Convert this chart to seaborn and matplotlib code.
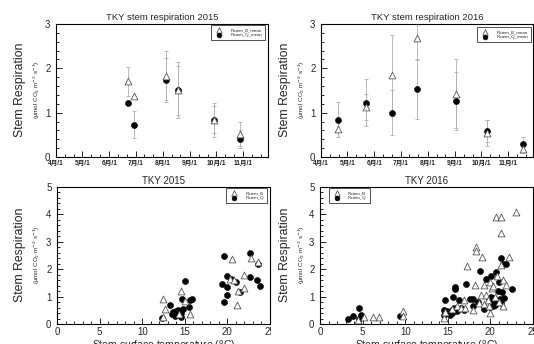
import numpy as np
import pandas as pd
import matplotlib
matplotlib.use("Agg")
import matplotlib.pyplot as plt
import matplotlib.dates as mdates
from matplotlib.ticker import MultipleLocator, FuncFormatter
from matplotlib.patches import Rectangle
import seaborn as sns

# ---- seasonal means (top panels) ----
dates_2015 = ["2015-06-22", "2015-06-29", "2015-08-05", "2015-08-18", "2015-09-28", "2015-10-28"]
rb_mean_2015 = [1.71, 1.38, 1.83, 1.52, 0.83, 0.52]
rq_mean_2015 = [1.21, 0.73, 1.74, 1.50, 0.84, 0.40]
rb_sd_2015 = [0.33, 0.0, 0.55, 0.63, 0.38, 0.28]
rq_sd_2015 = [0.0, 0.31, 0.50, 0.55, 0.30, 0.20]

dates_2016 = ["2016-04-20", "2016-05-22", "2016-06-21", "2016-07-20", "2016-09-02", "2016-10-08", "2016-11-18"]
rb_mean_2016 = [0.64, 1.13, 1.84, 2.69, 1.43, 0.54, 0.18]
rq_mean_2016 = [0.84, 1.22, 1.00, 1.53, 1.27, 0.58, 0.30]
rb_sd_2016 = [0.20, 0.30, 0.92, 0.50, 0.78, 0.30, 0.10]
rq_sd_2016 = [0.39, 0.53, 0.50, 0.68, 0.65, 0.25, 0.15]

# ---- temperature response (bottom panels) ----
tb_2015 = [12.4, 12.7, 12.4, 14.5, 15.0, 15.6, 14.3, 20.5, 22.8, 23.6,
           20.3, 20.8, 22.0, 22.0, 21.3, 21.1]
rb_2015 = [0.90, 0.56, 0.27, 1.20, 0.85, 0.36, 0.38, 2.38, 2.40, 2.27,
           1.65, 1.60, 1.78, 1.33, 1.20, 0.70]
tq_2015 = [12.3, 13.3, 13.6, 13.8, 14.0, 13.5, 14.5, 14.6, 14.7, 14.8,
           15.05, 15.5, 15.6, 15.8, 14.2, 19.4, 19.6, 19.6, 19.96, 20.0,
           20.4, 21.0, 21.5, 22.6, 22.7, 23.5, 23.6, 23.8, 20.0]
rq_2015 = [0.22, 0.70, 0.45, 0.30, 0.48, 0.35, 0.40, 0.25, 0.93, 0.55,
           1.58, 0.63, 0.86, 0.90, 0.50, 1.45, 2.50, 0.80, 1.75, 1.05,
           1.65, 1.52, 1.18, 2.60, 1.72, 1.60, 2.20, 1.40, 1.35]

tb_2016 = [4.5, 5.2, 6.2, 6.9, 9.7, 9.7, 14.6, 14.7, 16.1, 16.6,
           16.9, 17.3, 18.0, 18.2, 18.3, 18.3, 18.7, 18.9, 19.0, 19.3,
           19.3, 19.5, 19.7, 20.0, 20.0, 20.2, 20.5, 20.7, 20.8, 21.0,
           21.3, 21.3, 21.3, 21.5, 21.5, 21.8, 22.2, 23.0, 17.0, 15.5,
           19.8, 20.3]
rb_2016 = [0.14, 0.26, 0.26, 0.26, 0.47, 0.30, 0.21, 0.45, 0.64, 0.58,
           0.88, 2.12, 0.51, 1.42, 2.80, 2.68, 0.75, 1.06, 2.46, 1.42,
           0.72, 1.06, 0.88, 1.54, 0.39, 1.30, 1.00, 3.90, 1.75, 0.80,
           3.90, 3.31, 2.15, 1.60, 0.67, 1.42, 2.46, 4.10, 0.60, 0.55,
           0.65, 1.40]
tq_2016 = [3.3, 3.9, 4.6, 4.6, 4.8, 9.4, 14.5, 14.6, 14.7, 14.9,
           15.2, 15.5, 15.5, 15.6, 15.7, 15.9, 15.9, 16.1, 16.3, 16.6,
           16.9, 17.1, 17.6, 18.0, 18.0, 18.5, 18.8, 19.2, 19.5, 19.8,
           20.0, 20.1, 20.1, 20.2, 20.4, 20.5, 20.6, 20.7, 20.8, 20.9,
           21.0, 21.1, 21.2, 21.2, 21.4, 21.5, 21.6, 21.8, 22.5, 20.3,
           20.6]
rq_2016 = [0.20, 0.30, 0.57, 0.20, 0.32, 0.30, 0.50, 0.34, 0.88, 0.48,
           0.34, 0.51, 0.40, 1.00, 0.60, 1.36, 1.27, 0.48, 0.88, 0.58,
           0.52, 1.45, 0.91, 0.91, 0.66, 0.80, 1.93, 0.55, 1.65, 0.90,
           0.62, 1.76, 1.00, 0.85, 0.95, 0.70, 1.88, 0.75, 0.85, 1.20,
           1.55, 0.90, 0.75, 2.40, 1.16, 2.19, 0.95, 2.19, 1.28, 0.65,
           0.80]

sns.set_theme(style="ticks")
plt.rcParams["font.family"] = ["Liberation Sans", "Noto Sans CJK JP", "DejaVu Sans"]

W, H = 534, 344
fig = plt.figure(figsize=(W / 100, H / 100), dpi=100)


def box(l, r, t, b):
    return [l / W, 1 - b / H, (r - l) / W, (b - t) / H]


def style_axes(ax):
    for s in ax.spines.values():
        s.set_linewidth(0.8)
        s.set_color("black")
    ax.tick_params(which="both", direction="in", top=False, right=False,
                   labelsize=7, width=0.6, color="black", pad=4)
    ax.tick_params(which="major", length=4)
    ax.tick_params(which="minor", length=2)
    ax.set_xlabel("")
    ax.set_ylabel("")


def ylabels(x, yc):
    fig.text(x / W, 1 - yc / H, "Stem Respiration", rotation=90,
             ha="center", va="center", fontsize=8.8)
    fig.text((x + 17) / W, 1 - yc / H, "(μmol CO$_2$ m$^{-2}$ s$^{-1}$)",
             rotation=90, ha="center", va="center", fontsize=4.5)


def add_legend(ax, anchor, loc):
    leg = ax.legend(loc=loc, bbox_to_anchor=(anchor[0] / W, 1 - anchor[1] / H),
                    bbox_transform=fig.transFigure, borderaxespad=0,
                    frameon=True, fancybox=False, fontsize=3.2,
                    labelspacing=0.15, handletextpad=1.6, borderpad=0.7,
                    markerscale=0.8)
    leg.get_frame().set_edgecolor("black")
    leg.get_frame().set_linewidth(0.6)


tri_kw = dict(marker="^", s=24, color="white", edgecolor="#555555", linewidth=0.6)
dot_kw = dict(marker="o", s=19, color="black", edgecolor="black", linewidth=0.4)


def season_panel(rect, dates, rb, rq, sdb, sdq, year, title, leg_anchor):
    ax = fig.add_axes(rect)
    d = pd.to_datetime(dates)
    ax.errorbar(d, rb, yerr=sdb, fmt="none", ecolor="#b0b0b0", elinewidth=0.6,
                capsize=1.5, capthick=0.6, zorder=1)
    ax.errorbar(d, rq, yerr=sdq, fmt="none", ecolor="#b0b0b0", elinewidth=0.6,
                capsize=1.5, capthick=0.6, zorder=1)
    sns.scatterplot(x=d, y=rb, ax=ax, label="Rstem_B_mean", zorder=3, **tri_kw)
    sns.scatterplot(x=d, y=rq, ax=ax, label="Rstem_Q_mean", zorder=2, **dot_kw)
    ax.set_xlim(pd.Timestamp(f"{year}-04-01"), pd.Timestamp(f"{year}-11-29"))
    ax.set_ylim(0, 3)
    ax.xaxis.set_major_locator(mdates.MonthLocator(bymonthday=1))
    ax.xaxis.set_minor_locator(mdates.DayLocator(bymonthday=[11, 21]))
    ax.xaxis.set_major_formatter(
        FuncFormatter(lambda v, p: f"{mdates.num2date(v).month}月/1"))
    ax.yaxis.set_major_locator(MultipleLocator(1))
    ax.yaxis.set_minor_locator(MultipleLocator(0.2))
    style_axes(ax)
    ax.tick_params(axis="x", labelsize=4.8, pad=2)
    for t in ax.get_xticklabels():
        t.set_fontweight("bold")
    ax.set_title(title, fontsize=6.8, pad=3)
    add_legend(ax, leg_anchor, "upper right")
    return ax


def temp_panel(rect, tb, rb, tq, rq, title, leg_anchor, loc):
    ax = fig.add_axes(rect)
    sns.scatterplot(x=tb, y=rb, ax=ax, label="Rstem_B", zorder=3, **tri_kw)
    sns.scatterplot(x=tq, y=rq, ax=ax, label="Rstem_Q", zorder=2, **dot_kw)
    ax.set_xlim(0, 25)
    ax.set_ylim(0, 5)
    ax.xaxis.set_major_locator(MultipleLocator(5))
    ax.xaxis.set_minor_locator(MultipleLocator(1))
    ax.yaxis.set_major_locator(MultipleLocator(1))
    ax.yaxis.set_minor_locator(MultipleLocator(0.2))
    style_axes(ax)
    ax.tick_params(axis="x", pad=2)
    ax.set_title(title, fontsize=7, pad=2)
    ax.set_xlabel("Stem surface temperature ($^{\\rm o}$C)", fontsize=7.5)
    ax.xaxis.set_label_coords(0.5, -0.105)
    add_legend(ax, leg_anchor, loc)
    return ax


season_panel(box(56, 268, 24, 157), dates_2015, rb_mean_2015, rq_mean_2015,
             rb_sd_2015, rq_sd_2015, 2015, "TKY stem respiration 2015", (265, 25))
season_panel(box(321, 533, 24, 157), dates_2016, rb_mean_2016, rq_mean_2016,
             rb_sd_2016, rq_sd_2016, 2016, "TKY stem respiration 2016", (531, 27))
temp_panel(box(57, 270, 187, 324), tb_2015, rb_2015, tq_2015, rq_2015,
           "TKY 2015", (267, 188), "upper right")
temp_panel(box(320, 533, 187, 324), tb_2016, rb_2016, tq_2016, rq_2016,
           "TKY 2016", (329, 188), "upper left")

# the left panels are cropped where the right ones begin
fig.patches.append(Rectangle((271 / W, 0), 12 / W, 20 / H, transform=fig.transFigure,
                             facecolor="white", edgecolor="none", zorder=5))

ylabels(20, 90)
ylabels(285, 90)
ylabels(20, 255)
ylabels(285, 255)

fig.savefig("out.png", dpi=100)
